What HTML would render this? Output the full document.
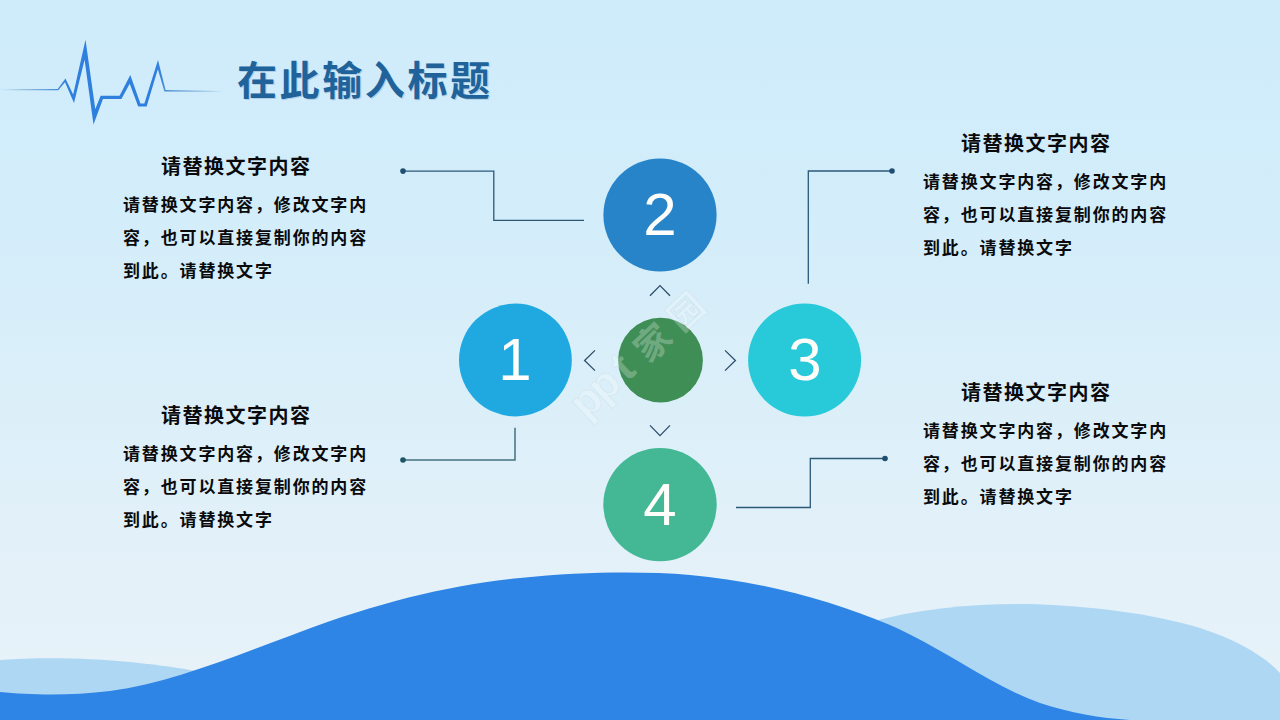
<!DOCTYPE html>
<html lang="zh-CN">
<head>
<meta charset="utf-8">
<title>在此输入标题</title>
<style>
html,body{margin:0;padding:0;}
body{width:1280px;height:720px;overflow:hidden;position:relative;font-family:"Liberation Sans","Noto Sans CJK SC",sans-serif;
background:linear-gradient(180deg,#cfecfb 0%,#d3edfa 30%,#dbeff9 55%,#e4f1f9 80%,#e8f2f8 100%);}
#art{position:absolute;left:0;top:0;width:1280px;height:720px;display:block;}
.t{position:absolute;color:#0a0a0c;white-space:nowrap;margin:0;font-weight:bold;overflow:hidden;font-family:"Liberation Sans","Noto Sans CJK SC",sans-serif;}
.t h1,.t h2,.t p{margin:0;font-size:inherit;line-height:inherit;font-weight:inherit;}
.title{left:237px;top:58px;width:260px;height:46px;font-size:40px;line-height:46px;color:#20629a;letter-spacing:2.6px;text-shadow:1.2px 1.4px 0 rgba(155,187,214,.6);}
.blk{width:250px;height:125px;}
.blk h2{font-size:20px;line-height:24px;padding-left:38px;height:24px;letter-spacing:1.5px;}
.blk p{font-size:17px;line-height:33px;white-space:normal;width:250px;margin-top:10px;letter-spacing:1.85px;}
.num{position:absolute;color:#fffefa;font-size:60px;width:60px;height:60px;line-height:60px;text-align:center;overflow:hidden;font-family:"Liberation Sans",sans-serif;}
</style>
</head>
<body>
<svg id="art" width="1280" height="720" viewBox="0 0 1280 720">
<defs>
<linearGradient id="hb" gradientUnits="userSpaceOnUse" x1="0" y1="0" x2="224" y2="0">
<stop offset="0" stop-color="#5a93c8" stop-opacity="0"/>
<stop offset=".1" stop-color="#5a93c8" stop-opacity=".55"/>
<stop offset=".25" stop-color="#4088d6" stop-opacity=".95"/>
<stop offset=".3" stop-color="#2f80de" stop-opacity="1"/>
<stop offset=".7" stop-color="#2f80de" stop-opacity="1"/>
<stop offset=".76" stop-color="#4a8ccf" stop-opacity=".9"/>
<stop offset=".9" stop-color="#5a93c8" stop-opacity=".5"/>
<stop offset="1" stop-color="#5a93c8" stop-opacity="0"/>
</linearGradient>
</defs>

<!-- bottom waves -->
<path fill="#aed7f3" d="M0 660 C40 657 90 658 130 662 C160 665 180 668 196 671 L196 720 L0 720Z"/>
<path fill="#aed7f3" d="M870 622 C920 608 980 603 1030 604 C1090 606 1150 613 1200 628 C1240 641 1265 657 1280 673 L1280 720 L870 720Z"/>
<path fill="#2e85e6" d="M0 692 C30 695 70 696 110 691 C170 683 230 658 300 632 C380 602 450 585 520 578 C580 572 640 571 690 575 C760 581 830 600 890 625 C950 652 990 685 1040 703 C1070 713 1100 718 1130 720 L1280 720 L0 720Z"/>

<!-- heartbeat -->
<path fill="url(#hb)" d="M0.00 90.20L58.32 90.35L64.98 82.24L74.00 102.90L84.58 59.86L93.50 124.40L102.97 99.10L121.43 98.95L129.71 83.72L138.18 106.60L146.65 106.55L157.84 69.27L164.42 91.54L223.99 92.10L224.01 91.10L165.58 90.06L158.00 59.90L144.35 103.45L140.42 103.40L130.30 75.10L119.57 95.85L100.63 95.70L95.28 108.93L85.50 39.70L73.17 94.60L65.40 78.60L57.68 89.05L0.00 89.20Z"/>

<!-- connectors -->
<g fill="none" stroke="#2c5878" stroke-width="1.3">
<path d="M403 171.1H493.8V220.4H584"/>
<path d="M808.3 283.8V171H892"/>
<path d="M403 460H515V427.8" stroke="#44707f" stroke-width="1.5"/>
<path d="M736 507.5H810.3V458.5H885"/>
</g>
<g fill="#1f4f70">
<circle cx="403" cy="171.1" r="2.8"/>
<circle cx="892" cy="171" r="2.8"/>
<circle cx="403" cy="460" r="2.8" fill="#1f5366"/>
<circle cx="885" cy="458.5" r="2.8"/>
</g>

<!-- chevrons -->
<g fill="none" stroke="#2d4d6c" stroke-width="1.3" stroke-linecap="butt" stroke-linejoin="miter">
<path d="M650 295.8L660 285.6L670 295.8"/>
<path d="M650 425.4L660 435.6L670 425.4"/>
<path d="M595 350.4L584.6 360.5L595 370.6"/>
<path d="M725 350.4L735.4 360.5L725 370.6"/>
</g>

<!-- circles -->
<circle cx="660" cy="215" r="56.6" fill="#2784c9"/>
<circle cx="515.4" cy="360" r="56.4" fill="#20a9e1"/>
<circle cx="804.6" cy="360" r="56.5" fill="#28c9d9"/>
<circle cx="660" cy="504.6" r="56.7" fill="#44b895"/>
<circle cx="660.5" cy="360.2" r="42.4" fill="#3f8e55"/>

<!-- watermark -->
<g transform="translate(652.2 342.2) rotate(-43)" fill="#ffffff" fill-opacity=".26" stroke="#7f96ab" stroke-opacity=".11" stroke-width="1">
<text font-family="'Liberation Sans','Noto Sans CJK SC',sans-serif" font-weight="bold" font-size="44" y="12.16"><tspan x="-101.73">p</tspan><tspan x="-77.73">p</tspan><tspan x="-45.8">t</tspan><tspan x="-17.85" y="13.57" font-size="35.7">家</tspan><tspan x="27.75" y="13.57" font-size="35.7">园</tspan></text>
</g>
</svg>

<div class="t title"><h1>在此输入标题</h1></div>
<div class="t blk" style="left:123px;top:155px"><h2>请替换文字内容</h2><p>请替换文字内容，修改文字内容，也可以直接复制你的内容到此。请替换文字</p></div>
<div class="t blk" style="left:923px;top:132px"><h2>请替换文字内容</h2><p>请替换文字内容，修改文字内容，也可以直接复制你的内容到此。请替换文字</p></div>
<div class="t blk" style="left:123px;top:404px"><h2>请替换文字内容</h2><p>请替换文字内容，修改文字内容，也可以直接复制你的内容到此。请替换文字</p></div>
<div class="t blk" style="left:923px;top:381px"><h2>请替换文字内容</h2><p>请替换文字内容，修改文字内容，也可以直接复制你的内容到此。请替换文字</p></div>
<div class="num" style="left:485px;top:330px">1</div>
<div class="num" style="left:630px;top:185px">2</div>
<div class="num" style="left:775px;top:330px">3</div>
<div class="num" style="left:630px;top:475px">4</div>
</body>
</html>
